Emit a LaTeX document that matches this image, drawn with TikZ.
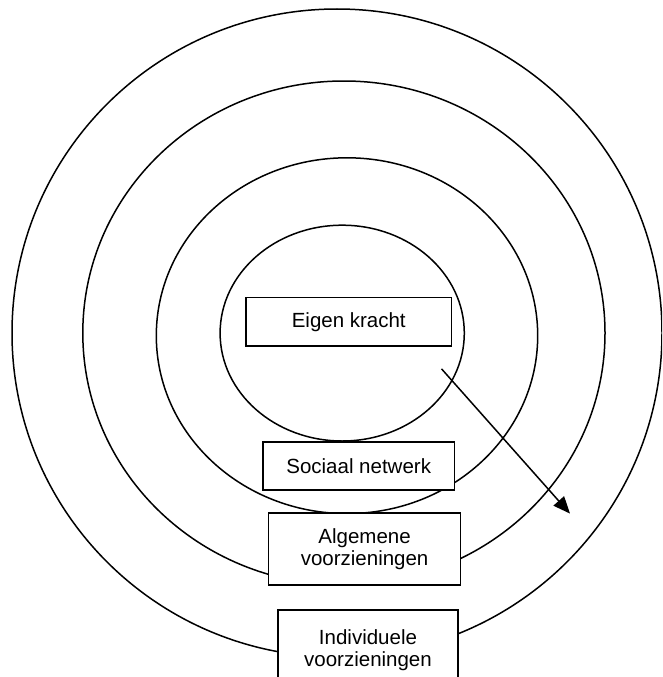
\documentclass[tikz,border=0pt]{standalone}
\usepackage{fontspec}
\setmainfont{Liberation Sans}
\usetikzlibrary{arrows.meta}
\tikzset{
    ring/.style={line width=1.5pt},
    layerbox/.style={draw, fill=white, line width=1.5pt, align=center, inner sep=0pt, font=\fontsize{20.5}{22.5}\selectfont}
}
\begin{document}
\begin{tikzpicture}[x=1pt,y=-1pt]
\useasboundingbox (0,0) rectangle (662,677);
\clip (0,0) rectangle (662,677);
% rings, outer to inner
\foreach \cx/\cy/\rx/\ry in {337/333/325/324, 343.9/333/261.1/252, 347/335.7/190.7/177.9, 342.2/333.1/122.1/107.9}{
    \draw[ring] (\cx,\cy) ellipse [x radius=\rx, y radius=\ry];
}
% labels
\foreach \x/\y/\w/\h/\p/\labeltext in {348.75/321.7/205.7/48.4/eigen/{Eigen kracht}, 358.7/465.8/191.8/48/sociaal/{Sociaal netwerk}, 364.6/549/191.8/72/algemeen/{Algemene\\voorzieningen}, 368/650/180/80/individueel/{Individuele\\voorzieningen}}{
    \node[layerbox, minimum width=\w pt, minimum height=\h pt] (\p) at (\x,\y) {\labeltext};
}
\coordinate (from) at (441.5,368.8);
\coordinate (to) at (570,513.6);
\draw[line width=1.5pt, -{Triangle[length=17pt,width=14pt]}] (from) -- (to);
\end{tikzpicture}
\end{document}
